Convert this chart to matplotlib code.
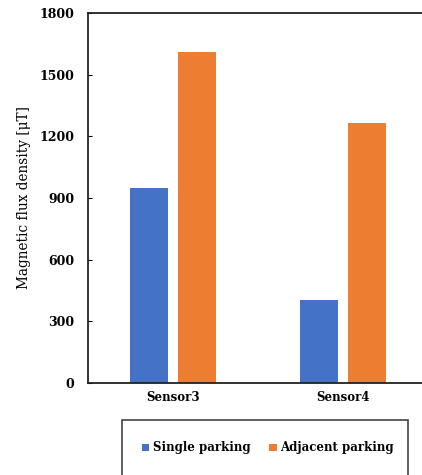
import numpy as np
import matplotlib.pyplot as plt
from matplotlib.patches import Rectangle

categories = ['Sensor3', 'Sensor4']
single_parking = [948, 404]
adjacent_parking = [1612, 1265]
yticks = [0, 300, 600, 900, 1200, 1500, 1800]

plt.rcParams['font.family'] = 'DejaVu Serif'

fig = plt.figure(figsize=(4.22, 4.75), dpi=100)
# plot area runs past the right edge of the image (right frame cut off)
ax = fig.add_axes([88/422, 1-383/475, 340/422, 370/475])

x = np.arange(len(categories))
w = 0.224
ax.bar(x - 0.141, single_parking, w, color='#4472C4', label='Single parking')
ax.bar(x + 0.141, adjacent_parking, w, color='#ED7D31', label='Adjacent parking')

ax.set_xlim(-0.5, 1.5)
ax.set_ylim(0, 1800)
ax.set_yticks(yticks)
ax.set_xticks(x)
ax.set_xticklabels(categories, fontsize=8.5, fontweight='bold')
ax.tick_params(axis='y', direction='in', length=3, labelsize=9, pad=10)
ax.tick_params(axis='x', length=0, pad=6)
for lab in ax.get_yticklabels():
    lab.set_fontweight('bold')
for s in ax.spines.values():
    s.set_color('#222222')
    s.set_linewidth(1.3)
ax.set_ylabel('Magnetic flux density [\u03bcT]', fontsize=9.8, labelpad=6)

# legend box, cut off at bottom like the original
fig.patches.append(Rectangle((122/422, -0.02), 286/422, 1-420/475+0.02,
                             transform=fig.transFigure, fill=False,
                             edgecolor='#444444', linewidth=1.2))
fig.legend(loc='center', bbox_to_anchor=(268/422, 1-448/475), ncol=2, frameon=False,
           handlelength=0.6, handleheight=0.6, handletextpad=0.3, columnspacing=1.6,
           prop={'size': 8.5, 'weight': 'bold'})

fig.savefig('out.png', dpi=100)
